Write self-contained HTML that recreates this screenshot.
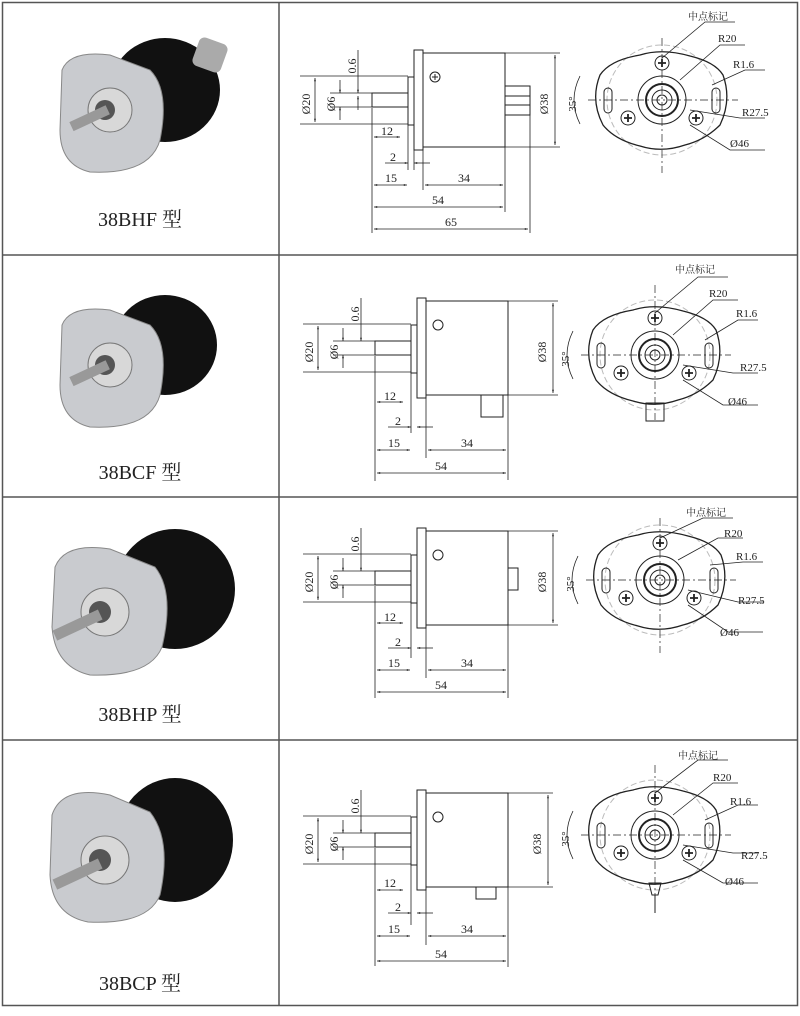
<!DOCTYPE html>
<html><head><meta charset="utf-8"><style>
html,body{margin:0;padding:0;background:#fff;width:800px;height:1016px;overflow:hidden}
text{font-family:"Liberation Serif","Noto Serif CJK SC",serif;fill:#222}
</style></head><body>
<svg width="800" height="1016" viewBox="0 0 800 1016" xmlns="http://www.w3.org/2000/svg">
<defs>
<marker id="a" viewBox="0 0 10 10" refX="10" refY="5" markerWidth="6" markerHeight="4" orient="auto-start-reverse"><path d="M0,2 L10,5 L0,8z" fill="#222"/></marker>
</defs>
<!-- grid -->
<g fill="none" stroke="#555" stroke-width="1.5">
<rect x="2.5" y="2.5" width="795" height="1003"/>
<line x1="279" y1="2" x2="279" y2="1005"/>
<line x1="2" y1="255" x2="798" y2="255"/>
<line x1="2" y1="497" x2="798" y2="497"/>
<line x1="2" y1="740" x2="798" y2="740"/>
</g>

<!-- photo rows -->
<g id="ph1" transform="translate(0,0)">
<ellipse cx="165" cy="90" rx="55" ry="52" fill="#111"/>
<rect x="195" y="40" width="30" height="30" rx="6" fill="#aaa" transform="rotate(20 210 55)"/>
<path d="M62,70 Q70,50 110,55 L150,70 Q170,90 160,140 Q150,175 90,172 Q60,165 60,130z" fill="#c9cbcf" stroke="#888"/>
<circle cx="110" cy="110" r="22" fill="#d8d8d8" stroke="#777"/>
<circle cx="105" cy="110" r="10" fill="#555"/>
<rect x="68" y="106" width="40" height="10" fill="#999" transform="rotate(-25 105 111)"/>
<text x="140" y="226" font-size="20" text-anchor="middle">38BHF 型</text>
</g>
<g transform="translate(0,255)">
<ellipse cx="165" cy="90" rx="52" ry="50" fill="#111"/>
<path d="M62,70 Q70,50 110,55 L150,70 Q170,90 160,140 Q150,175 90,172 Q60,165 60,130z" fill="#c9cbcf" stroke="#888"/>
<circle cx="110" cy="110" r="22" fill="#d8d8d8" stroke="#777"/>
<circle cx="105" cy="110" r="10" fill="#555"/>
<rect x="68" y="106" width="40" height="10" fill="#999" transform="rotate(-25 105 111)"/>
<text x="140" y="224" font-size="20" text-anchor="middle">38BCF 型</text>
</g>
<g transform="translate(0,497)">
<ellipse cx="175" cy="92" rx="60" ry="60" fill="#111"/>
<path d="M55,70 Q65,45 110,52 L155,70 Q175,95 162,150 Q150,180 90,178 Q55,170 52,130z" fill="#c9cbcf" stroke="#888"/>
<circle cx="105" cy="115" r="24" fill="#d8d8d8" stroke="#777"/>
<circle cx="100" cy="115" r="11" fill="#555"/>
<rect x="50" y="112" width="50" height="11" fill="#999" transform="rotate(-25 100 117)"/>
<text x="140" y="224" font-size="20" text-anchor="middle">38BHP 型</text>
</g>
<g transform="translate(0,740)">
<ellipse cx="175" cy="100" rx="58" ry="62" fill="#111"/>
<path d="M52,75 Q62,45 110,55 L150,72 Q172,100 160,155 Q148,185 88,182 Q52,175 50,135z" fill="#c9cbcf" stroke="#888"/>
<circle cx="105" cy="120" r="24" fill="#d8d8d8" stroke="#777"/>
<circle cx="100" cy="120" r="11" fill="#555"/>
<rect x="50" y="118" width="50" height="11" fill="#999" transform="rotate(-25 100 123)"/>
<text x="140" y="250" font-size="20" text-anchor="middle">38BCP 型</text>
</g>

<!-- side view template rows -->
<g id="side1" fill="none" stroke="#222" stroke-width="1">
<rect x="372" y="93" width="36" height="14"/>
<rect x="408" y="77" width="6" height="48"/>
<rect x="414" y="50" width="9" height="100"/>
<rect x="423" y="53" width="82" height="94"/>
<circle cx="435" cy="77" r="5"/>
<path d="M432,77h6M435,74v6"/>
<rect x="505" y="86" width="25" height="29"/>
<path d="M505,96h25M505,105h25"/>
<g stroke-width="0.8">
<path d="M505,53h55M505,147h55M300,76h108M300,124h108M330,93h42M330,107h42M372,108v125M530,115v118M505,147v65M423,150v40M408,125v45M414,150v20"/>
<line x1="555" y1="55" x2="555" y2="145" marker-start="url(#a)" marker-end="url(#a)"/>
<line x1="315" y1="78" x2="315" y2="122" marker-start="url(#a)" marker-end="url(#a)"/>
<line x1="340" y1="80" x2="340" y2="93" marker-end="url(#a)"/><line x1="340" y1="120" x2="340" y2="107" marker-end="url(#a)"/>
<line x1="358" y1="50" x2="358" y2="93" marker-end="url(#a)"/><line x1="358" y1="110" x2="358" y2="96" marker-end="url(#a)"/>
<line x1="374" y1="137" x2="400" y2="137" marker-start="url(#a)" marker-end="url(#a)"/>
<line x1="385" y1="163" x2="408" y2="163" marker-end="url(#a)"/><line x1="430" y1="163" x2="414" y2="163" marker-end="url(#a)"/>
<line x1="374" y1="185" x2="407" y2="185" marker-start="url(#a)" marker-end="url(#a)"/>
<line x1="425" y1="185" x2="503" y2="185" marker-start="url(#a)" marker-end="url(#a)"/>
<line x1="374" y1="207" x2="503" y2="207" marker-start="url(#a)" marker-end="url(#a)"/>
<line x1="374" y1="229" x2="528" y2="229" marker-start="url(#a)" marker-end="url(#a)"/>
</g>
</g>
<g font-size="12">
<text x="544" y="100" transform="rotate(-90 548 100)" text-anchor="middle">Ø38</text>
<text x="306" y="100" transform="rotate(-90 310 100)" text-anchor="middle">Ø20</text>
<text x="331" y="100" transform="rotate(-90 335 100)" text-anchor="middle">Ø6</text>
<text x="352" y="62" transform="rotate(-90 356 62)" text-anchor="middle">0.6</text>
<text x="387" y="135" text-anchor="middle">12</text>
<text x="393" y="161" text-anchor="middle">2</text>
<text x="391" y="182" text-anchor="middle">15</text>
<text x="464" y="182" text-anchor="middle">34</text>
<text x="438" y="204" text-anchor="middle">54</text>
<text x="451" y="226" text-anchor="middle">65</text>
</g>

<!-- side rows 2-4 -->
<g transform="translate(3,248)">
<g fill="none" stroke="#222" stroke-width="1">
<rect x="372" y="93" width="36" height="14"/><rect x="408" y="77" width="6" height="48"/><rect x="414" y="50" width="9" height="100"/><rect x="423" y="53" width="82" height="94"/>
<circle cx="435" cy="77" r="5"/><rect x="478" y="147" width="22" height="22"/>
<g stroke-width="0.8">
<path d="M505,53h50M505,147h50M300,76h108M300,124h108M330,93h42M330,107h42M372,108v125M505,147v85M423,150v60M408,125v60"/>
<line x1="550" y1="55" x2="550" y2="145" marker-start="url(#a)" marker-end="url(#a)"/>
<line x1="315" y1="78" x2="315" y2="122" marker-start="url(#a)" marker-end="url(#a)"/>
<line x1="340" y1="80" x2="340" y2="93" marker-end="url(#a)"/><line x1="340" y1="120" x2="340" y2="107" marker-end="url(#a)"/>
<line x1="358" y1="50" x2="358" y2="93" marker-end="url(#a)"/>
<line x1="374" y1="154" x2="400" y2="154" marker-start="url(#a)" marker-end="url(#a)"/>
<line x1="385" y1="179" x2="408" y2="179" marker-end="url(#a)"/><line x1="430" y1="179" x2="414" y2="179" marker-end="url(#a)"/>
<line x1="374" y1="202" x2="407" y2="202" marker-start="url(#a)" marker-end="url(#a)"/>
<line x1="425" y1="202" x2="503" y2="202" marker-start="url(#a)" marker-end="url(#a)"/>
<line x1="374" y1="225" x2="503" y2="225" marker-start="url(#a)" marker-end="url(#a)"/>
</g></g>
<g font-size="12">
<text x="539" y="100" transform="rotate(-90 543 100)" text-anchor="middle">Ø38</text>
<text x="306" y="100" transform="rotate(-90 310 100)" text-anchor="middle">Ø20</text>
<text x="331" y="100" transform="rotate(-90 335 100)" text-anchor="middle">Ø6</text>
<text x="352" y="62" transform="rotate(-90 356 62)" text-anchor="middle">0.6</text>
<text x="387" y="152" text-anchor="middle">12</text><text x="395" y="177" text-anchor="middle">2</text>
<text x="391" y="199" text-anchor="middle">15</text><text x="464" y="199" text-anchor="middle">34</text><text x="438" y="222" text-anchor="middle">54</text>
</g></g>

<g transform="translate(3,478)">
<g fill="none" stroke="#222" stroke-width="1">
<rect x="372" y="93" width="36" height="14"/><rect x="408" y="77" width="6" height="48"/><rect x="414" y="50" width="9" height="100"/><rect x="423" y="53" width="82" height="94"/>
<circle cx="435" cy="77" r="5"/><rect x="505" y="90" width="10" height="22"/>
<g stroke-width="0.8">
<path d="M505,53h50M505,147h50M300,76h108M300,124h108M330,93h42M330,107h42M372,108v112M505,147v73M423,150v50M408,125v55"/>
<line x1="550" y1="55" x2="550" y2="145" marker-start="url(#a)" marker-end="url(#a)"/>
<line x1="315" y1="78" x2="315" y2="122" marker-start="url(#a)" marker-end="url(#a)"/>
<line x1="340" y1="80" x2="340" y2="93" marker-end="url(#a)"/><line x1="340" y1="120" x2="340" y2="107" marker-end="url(#a)"/>
<line x1="358" y1="50" x2="358" y2="93" marker-end="url(#a)"/>
<line x1="374" y1="145" x2="400" y2="145" marker-start="url(#a)" marker-end="url(#a)"/>
<line x1="385" y1="170" x2="408" y2="170" marker-end="url(#a)"/><line x1="430" y1="170" x2="414" y2="170" marker-end="url(#a)"/>
<line x1="374" y1="192" x2="407" y2="192" marker-start="url(#a)" marker-end="url(#a)"/>
<line x1="425" y1="192" x2="503" y2="192" marker-start="url(#a)" marker-end="url(#a)"/>
<line x1="374" y1="214" x2="503" y2="214" marker-start="url(#a)" marker-end="url(#a)"/>
</g></g>
<g font-size="12">
<text x="539" y="100" transform="rotate(-90 543 100)" text-anchor="middle">Ø38</text>
<text x="306" y="100" transform="rotate(-90 310 100)" text-anchor="middle">Ø20</text>
<text x="331" y="100" transform="rotate(-90 335 100)" text-anchor="middle">Ø6</text>
<text x="352" y="62" transform="rotate(-90 356 62)" text-anchor="middle">0.6</text>
<text x="387" y="143" text-anchor="middle">12</text><text x="395" y="168" text-anchor="middle">2</text>
<text x="391" y="189" text-anchor="middle">15</text><text x="464" y="189" text-anchor="middle">34</text><text x="438" y="211" text-anchor="middle">54</text>
</g></g>

<g transform="translate(3,740)">
<g fill="none" stroke="#222" stroke-width="1">
<rect x="372" y="93" width="36" height="14"/><rect x="408" y="77" width="6" height="48"/><rect x="414" y="50" width="9" height="100"/><rect x="423" y="53" width="82" height="94"/>
<circle cx="435" cy="77" r="5"/><rect x="473" y="147" width="20" height="12"/>
<g stroke-width="0.8">
<path d="M505,53h45M505,147h45M300,76h108M300,124h108M330,93h42M330,107h42M372,108v118M505,147v80M423,150v55M408,125v60"/>
<line x1="545" y1="55" x2="545" y2="145" marker-start="url(#a)" marker-end="url(#a)"/>
<line x1="315" y1="78" x2="315" y2="122" marker-start="url(#a)" marker-end="url(#a)"/>
<line x1="340" y1="80" x2="340" y2="93" marker-end="url(#a)"/><line x1="340" y1="120" x2="340" y2="107" marker-end="url(#a)"/>
<line x1="358" y1="50" x2="358" y2="93" marker-end="url(#a)"/>
<line x1="374" y1="150" x2="400" y2="150" marker-start="url(#a)" marker-end="url(#a)"/>
<line x1="385" y1="173" x2="408" y2="173" marker-end="url(#a)"/><line x1="430" y1="173" x2="414" y2="173" marker-end="url(#a)"/>
<line x1="374" y1="196" x2="407" y2="196" marker-start="url(#a)" marker-end="url(#a)"/>
<line x1="425" y1="196" x2="503" y2="196" marker-start="url(#a)" marker-end="url(#a)"/>
<line x1="374" y1="221" x2="503" y2="221" marker-start="url(#a)" marker-end="url(#a)"/>
</g></g>
<g font-size="12">
<text x="534" y="100" transform="rotate(-90 538 100)" text-anchor="middle">Ø38</text>
<text x="306" y="100" transform="rotate(-90 310 100)" text-anchor="middle">Ø20</text>
<text x="331" y="100" transform="rotate(-90 335 100)" text-anchor="middle">Ø6</text>
<text x="352" y="62" transform="rotate(-90 356 62)" text-anchor="middle">0.6</text>
<text x="387" y="147" text-anchor="middle">12</text><text x="395" y="171" text-anchor="middle">2</text>
<text x="391" y="193" text-anchor="middle">15</text><text x="464" y="193" text-anchor="middle">34</text><text x="438" y="218" text-anchor="middle">54</text>
</g></g>

<!-- front views -->
<g id="fronts">
<g transform="translate(0,0)">
<g fill="none" stroke="#222" stroke-width="1">
<circle cx="662" cy="100" r="55" stroke="#bbb" stroke-dasharray="6 3"/>
<path d="M600,75 Q610,60 640,55 Q662,48 690,56 Q715,62 723,75 Q732,100 720,125 Q705,140 685,145 Q662,153 640,146 Q615,140 603,125 Q590,100 600,75z" stroke-width="1.3"/>
<rect x="604" y="88" width="8" height="25" rx="4"/><rect x="712" y="88" width="8" height="25" rx="4"/>
<circle cx="662" cy="100" r="24"/><circle cx="662" cy="100" r="16" stroke-width="2"/><circle cx="662" cy="100" r="10"/><circle cx="662" cy="100" r="5"/>
<circle cx="662" cy="63" r="7"/><circle cx="628" cy="118" r="7"/><circle cx="696" cy="118" r="7"/>
<path d="M658,63h8M662,59v8M624,118h8M628,114v8M692,118h8M696,114v8" stroke-width="1.8"/>
<path d="M588,100h150M662,38v135" stroke-width="0.7" stroke-dasharray="8 3 2 3"/>
<path d="M662,58 L705,22h30M680,80 L720,45h25M712,85 L745,70h20M690,110 L740,118h25M690,125 L730,150h35" stroke-width="0.8"/>
<path d="M580,76 Q568,100 580,124" stroke-width="0.8"/>
</g>
<g font-size="11"><text x="688" y="20" font-size="10">中点标记</text><text x="718" y="42">R20</text><text x="733" y="68">R1.6</text><text x="742" y="116">R27.5</text><text x="730" y="147">Ø46</text>
<text x="568" y="104" transform="rotate(-90 572 100)" text-anchor="middle">35°</text></g>
</g>
<g transform="translate(-7,255)">
<g fill="none" stroke="#222" stroke-width="1">
<circle cx="662" cy="100" r="55" stroke="#bbb" stroke-dasharray="6 3"/>
<path d="M600,75 Q610,60 640,55 Q662,48 690,56 Q715,62 723,75 Q732,100 720,125 Q705,140 685,145 Q662,153 640,146 Q615,140 603,125 Q590,100 600,75z" stroke-width="1.3"/>
<rect x="604" y="88" width="8" height="25" rx="4"/><rect x="712" y="88" width="8" height="25" rx="4"/>
<circle cx="662" cy="100" r="24"/><circle cx="662" cy="100" r="16" stroke-width="2"/><circle cx="662" cy="100" r="10"/><circle cx="662" cy="100" r="5"/>
<circle cx="662" cy="63" r="7"/><circle cx="628" cy="118" r="7"/><circle cx="696" cy="118" r="7"/>
<path d="M658,63h8M662,59v8M624,118h8M628,114v8M692,118h8M696,114v8" stroke-width="1.8"/>
<rect x="653" y="148" width="18" height="18"/>
<path d="M588,100h150M662,30v135" stroke-width="0.7" stroke-dasharray="8 3 2 3"/>
<path d="M662,58 L705,22h30M680,80 L720,45h25M712,85 L745,65h20M690,110 L740,118h25M690,125 L730,150h35" stroke-width="0.8"/>
<path d="M580,76 Q568,100 580,124" stroke-width="0.8"/>
</g>
<g font-size="11"><text x="682" y="18" font-size="10">中点标记</text><text x="716" y="42">R20</text><text x="743" y="62">R1.6</text><text x="747" y="116">R27.5</text><text x="735" y="150">Ø46</text>
<text x="568" y="104" transform="rotate(-90 572 100)" text-anchor="middle">35°</text></g>
</g>
<g transform="translate(-2,480)">
<g fill="none" stroke="#222" stroke-width="1">
<circle cx="662" cy="100" r="55" stroke="#bbb" stroke-dasharray="6 3"/>
<path d="M600,75 Q610,60 640,55 Q662,48 690,56 Q715,62 723,75 Q732,100 720,125 Q705,140 685,145 Q662,153 640,146 Q615,140 603,125 Q590,100 600,75z" stroke-width="1.3"/>
<rect x="604" y="88" width="8" height="25" rx="4"/><rect x="712" y="88" width="8" height="25" rx="4"/>
<circle cx="662" cy="100" r="24"/><circle cx="662" cy="100" r="16" stroke-width="2"/><circle cx="662" cy="100" r="10"/><circle cx="662" cy="100" r="5"/>
<circle cx="662" cy="63" r="7"/><circle cx="628" cy="118" r="7"/><circle cx="696" cy="118" r="7"/>
<path d="M658,63h8M662,59v8M624,118h8M628,114v8M692,118h8M696,114v8" stroke-width="1.8"/>
<path d="M588,100h150M662,38v135" stroke-width="0.7" stroke-dasharray="8 3 2 3"/>
<path d="M662,58 L705,38h30M680,80 L720,58h25M712,85 L745,82h20M690,110 L740,122h25M690,125 L730,152h35" stroke-width="0.8"/>
<path d="M580,76 Q568,100 580,124" stroke-width="0.8"/>
</g>
<g font-size="11"><text x="688" y="36" font-size="10">中点标记</text><text x="726" y="57">R20</text><text x="738" y="80">R1.6</text><text x="740" y="124">R27.5</text><text x="722" y="156">Ø46</text>
<text x="568" y="104" transform="rotate(-90 572 100)" text-anchor="middle">35°</text></g>
</g>
<g transform="translate(-7,735)">
<g fill="none" stroke="#222" stroke-width="1">
<circle cx="662" cy="100" r="55" stroke="#bbb" stroke-dasharray="6 3"/>
<path d="M600,75 Q610,60 640,55 Q662,48 690,56 Q715,62 723,75 Q732,100 720,125 Q705,140 685,145 Q662,153 640,146 Q615,140 603,125 Q590,100 600,75z" stroke-width="1.3"/>
<rect x="604" y="88" width="8" height="25" rx="4"/><rect x="712" y="88" width="8" height="25" rx="4"/>
<circle cx="662" cy="100" r="24"/><circle cx="662" cy="100" r="16" stroke-width="2"/><circle cx="662" cy="100" r="10"/><circle cx="662" cy="100" r="5"/>
<circle cx="662" cy="63" r="7"/><circle cx="628" cy="118" r="7"/><circle cx="696" cy="118" r="7"/>
<path d="M658,63h8M662,59v8M624,118h8M628,114v8M692,118h8M696,114v8" stroke-width="1.8"/>
<path d="M656,148h12l-3,12h-6zM662,160v18"/>
<path d="M588,100h150M662,30v135" stroke-width="0.7" stroke-dasharray="8 3 2 3"/>
<path d="M662,58 L705,25h30M680,80 L720,48h25M712,85 L745,70h20M690,110 L740,118h25M690,125 L730,148h35" stroke-width="0.8"/>
<path d="M580,76 Q568,100 580,124" stroke-width="0.8"/>
</g>
<g font-size="11"><text x="685" y="24" font-size="10">中点标记</text><text x="720" y="46">R20</text><text x="737" y="70">R1.6</text><text x="748" y="124">R27.5</text><text x="732" y="150">Ø46</text>
<text x="568" y="104" transform="rotate(-90 572 100)" text-anchor="middle">35°</text></g>
</g>
</g>
</svg>
</body></html>
